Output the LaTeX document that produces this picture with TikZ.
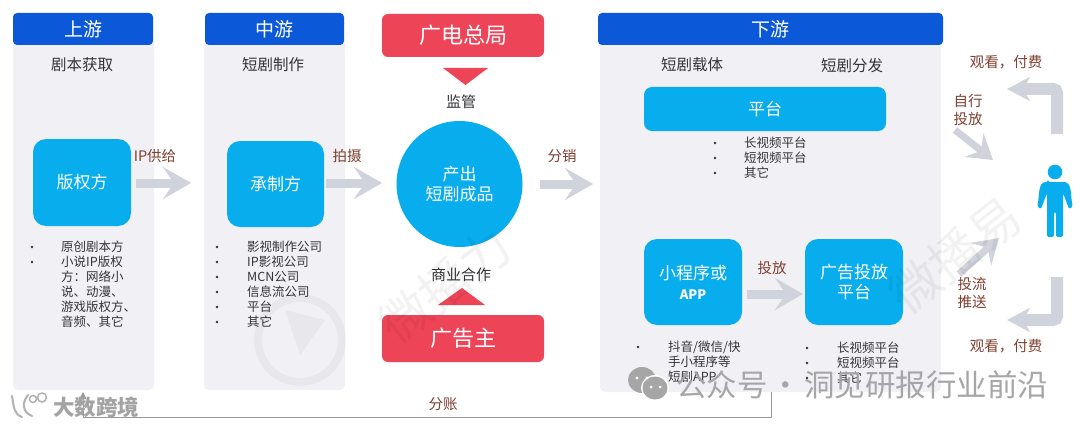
\documentclass[tikz,border=0pt]{standalone}
\usepackage{fontspec}
\setmainfont{Noto Sans CJK SC}
\usetikzlibrary{arrows.meta}
\definecolor{hdrblue}{HTML}{0B58D9}
\definecolor{skyc}{HTML}{08ADEE}
\definecolor{redc}{HTML}{EE4458}
\definecolor{panelc}{HTML}{F1F1F5}
\definecolor{arrc}{HTML}{D0D2DC}
\definecolor{brownc}{HTML}{7F4030}
\definecolor{txtc}{HTML}{333338}
\definecolor{wmc}{HTML}{A6A6A6}
\tikzset{
 x=1pt,y=-1pt,
 panel/.style={fill=panelc,rounded corners=5pt,draw=none},
 hdr/.style={fill=hdrblue,rounded corners=4pt,text=white,align=center,inner sep=0,font=\fontsize{19}{22}\selectfont},
 skybox/.style={fill=skyc,rounded corners=13pt,text=white,align=center,inner sep=0,font=\fontsize{17}{22}\selectfont},
 redbox/.style={fill=redc,rounded corners=6pt,text=white,align=center,inner sep=0,font=\fontsize{22}{26}\selectfont},
 sub/.style={text=txtc,font=\fontsize{15.5}{18}\selectfont,inner sep=0},
 lab/.style={text=brownc,align=center,font=\fontsize{14.5}{18}\selectfont,inner sep=0},
 blk/.style={text=txtc,font=\fontsize{15}{18}\selectfont,inner sep=0},
 items/.style={text=txtc,anchor=north west,align=left,inner sep=0,font=\fontsize{12.5}{15}\selectfont},
 bul/.style={circle,fill=txtc,inner sep=0,minimum size=2.6pt},
 flow/.style={draw=arrc,line width=9pt,-{Stealth[length=28pt,width=32pt,inset=11pt]}},
 slim/.style={draw=arrc,line width=7pt,-{Stealth[length=24pt,width=30pt,inset=9pt]}},
 turn/.style={draw=arrc,line width=12pt,rounded corners=4pt,-{Stealth[length=23pt,width=24pt,inset=7pt]}},
 wm/.style={text=black,opacity=.05,inner sep=0},
}
\begin{document}
\begin{tikzpicture}
\useasboundingbox (0,0) rectangle (1080,428);
\fill[white] (0,0) rectangle (1080,428);
% panels
\path[panel] (13,40) rectangle (154,390);
\path[panel] (204,40) rectangle (345,390);
\path[panel] (600,40) rectangle (941,392);
% headers
\node[hdr,minimum width=140pt,minimum height=32pt] (up) at (83,29) {上游};
\node[hdr,minimum width=139pt,minimum height=32pt] (mid) at (274.5,29) {中游};
\node[hdr,minimum width=345pt,minimum height=32pt] (down) at (770.5,29) {下游};
% subtitles
\node[sub] (s1) at (82,65) {剧本获取};
\node[sub] (s2) at (273,65) {短剧制作};
\node[sub] (s3) at (692,65) {短剧载体};
\node[sub] (s4) at (852,66) {短剧分发};
% boxes
\node[skybox,minimum width=98pt,minimum height=87pt] (copyr) at (82,182.5) {版权方};
\node[skybox,minimum width=97pt,minimum height=86pt] (prod) at (275.5,184) {承制方};
\node[skybox,rounded corners=8pt,minimum width=242pt,minimum height=44pt] (plat) at (765,109) {平台};
\node[skybox,minimum width=98pt,minimum height=86pt] (mini) at (693,282) {小程序或\\[-2pt]{\fontsize{13}{15}\selectfont\bfseries APP}};
\node[skybox,minimum width=98pt,minimum height=86pt] (adp) at (854,282) {广告投放\\[-2pt]平台};
\node[circle,fill=skyc,minimum size=126pt,inner sep=0,text=white,align=center,font=\fontsize{17}{19.5}\selectfont] (prodc) at (459.5,184) {产出\\短剧成品};
\node[redbox,minimum width=162pt,minimum height=43pt] (reg) at (463,35.5) {广电总局};
\node[redbox,minimum width=162pt,minimum height=47pt] (adv) at (463,338.5) {广告主};
% triangles
\fill[redc] (443,68) -- (488,68) -- (465.5,85) -- cycle;
\fill[redc] (438,305) -- (485,305) -- (462,288) -- cycle;
% labels
\node[blk] (l1) at (461,102) {监管};
\node[blk] (l2) at (461,275) {商业合作};
\node[lab] (l3) at (155,156) {IP供给};
\node[lab] (l4) at (347,156) {拍摄};
\node[lab] (l5) at (562,156) {分销};
\node[lab] (l6) at (772,268) {投放};
\node[lab] (l7) at (443,404) {分账};
\node[lab] (l8) at (1006,62) {观看，付费};
\node[lab] (l9) at (1006,346) {观看，付费};
\node[lab,font=\fontsize{14.5}{17.5}\selectfont] (l10) at (968,110) {自行\\投放};
\node[lab,font=\fontsize{14.5}{17.5}\selectfont] (l11) at (972,293) {投流\\推送};
% flow arrows
\coordinate (a1s) at (136,183); \coordinate (a1e) at (191,183);
\coordinate (a2s) at (326,183); \coordinate (a2e) at (382,183);
\coordinate (a3s) at (540,184); \coordinate (a3e) at (593,184);
\coordinate (a4s) at (747,294); \coordinate (a4e) at (803,294);
\draw[flow] (a1s) -- (a1e);
\draw[flow] (a2s) -- (a2e);
\draw[flow] (a3s) -- (a3e);
\draw[flow] (a4s) -- (a4e);
\coordinate (b1s) at (955,130); \coordinate (b1e) at (993,160);
\coordinate (b2s) at (959,274); \coordinate (b2e) at (999,238);
\draw[slim] (b1s) -- (b1e);
\draw[slim] (b2s) -- (b2e);
\coordinate (c1s) at (1057,134); \coordinate (c1m) at (1057,89); \coordinate (c1e) at (1007,89);
\coordinate (c2s) at (1057,277); \coordinate (c2m) at (1057,320); \coordinate (c2e) at (1007,320);
\draw[turn] (c1s) -- (c1m) -- (c1e);
\draw[turn] (c2s) -- (c2m) -- (c2e);
% person
\fill[skyc] (1055,172) circle (7.3);
\fill[skyc,rounded corners=2pt] (1048,182) -- (1062,182) to[out=0,in=105] (1073,207) -- (1069,209) -- (1063,193) -- (1063,237) -- (1056,237) -- (1056,212) -- (1054,212) -- (1054,237) -- (1047,237) -- (1047,193) -- (1041,209) -- (1037,207) to[out=75,in=180] (1048,182) -- cycle;
% lists
\foreach \y in {247,262} \node[bul] at (32,\y) {};
\node[items] (li1) at (61,240.5) {原创剧本方\\小说IP版权\\方：网络小\\说、动漫、\\游戏版权方、\\音频、其它};
\foreach \y in {247,262,277,292,307,322} \node[bul] at (217,\y) {};
\node[items] (li2) at (247,240.5) {影视制作公司\\IP影视公司\\MCN公司\\信息流公司\\平台\\其它};
\foreach \y in {143,158,173} \node[bul] at (715,\y) {};
\node[items] (li3) at (744,136.5) {长视频平台\\短视频平台\\其它};
\foreach \y in {347,377} \node[bul] at (638,\y) {};
\node[items] (li4) at (668,340.5) {抖音/微信/快\\手小程序等\\短剧APP};
\foreach \y in {348,363,378} \node[bul] at (807,\y) {};
\node[items] (li5) at (837,341.5) {长视频平台\\短视频平台\\其它};
% revenue share line
\coordinate (r1) at (771,392); \coordinate (r2) at (771,417); \coordinate (r3) at (83,417); \coordinate (r4) at (83,392);
\draw[draw=black!40,line width=.9pt,-{Triangle[length=7pt,width=7pt]}] (r1) -- (r2) -- (r3) -- (r4);
% watermarks
\node[wm,rotate=38,font=\fontsize{50}{50}\selectfont] (w1) at (445,285) {微播力};
\node[wm,rotate=38,font=\fontsize{50}{50}\selectfont] (w2) at (955,255) {微播易};
\draw[black,opacity=.035,line width=8pt] (300,340) circle (42);
\fill[black,opacity=.035] (285,310) -- (325,320) -- (300,355) -- cycle;
\fill[wmc] (642,380) ellipse (14 and 13);
\fill[white] (655,388) ellipse (14 and 13);
\fill[wmc] (655,388) ellipse (12.5 and 11.5);
\fill[white] (637,378) circle (1.6) (647,378) circle (1.6) (651,387) circle (1.5) (660,387) circle (1.5);
\node[text=wmc,inner sep=0,anchor=west,font=\fontsize{30.5}{32}\selectfont] (w3) at (676,385) {公众号\hspace{3pt}·\hspace{3pt}洞见研报行业前沿};
\node[text=black!36,inner sep=0,font=\fontsize{21.5}{24}\selectfont\bfseries] (w4) at (96,407) {大数跨境};
\draw[black!30,line width=2pt,line cap=round] (12,396) .. controls (14,408) and (14,414) .. (22,417) (28,395) .. controls (22,402) and (22,412) .. (32,416);
\draw[black!30,line width=1.5pt] (33,399) circle (3.5) (42,397.5) circle (4.5);
\end{tikzpicture}
\end{document}
